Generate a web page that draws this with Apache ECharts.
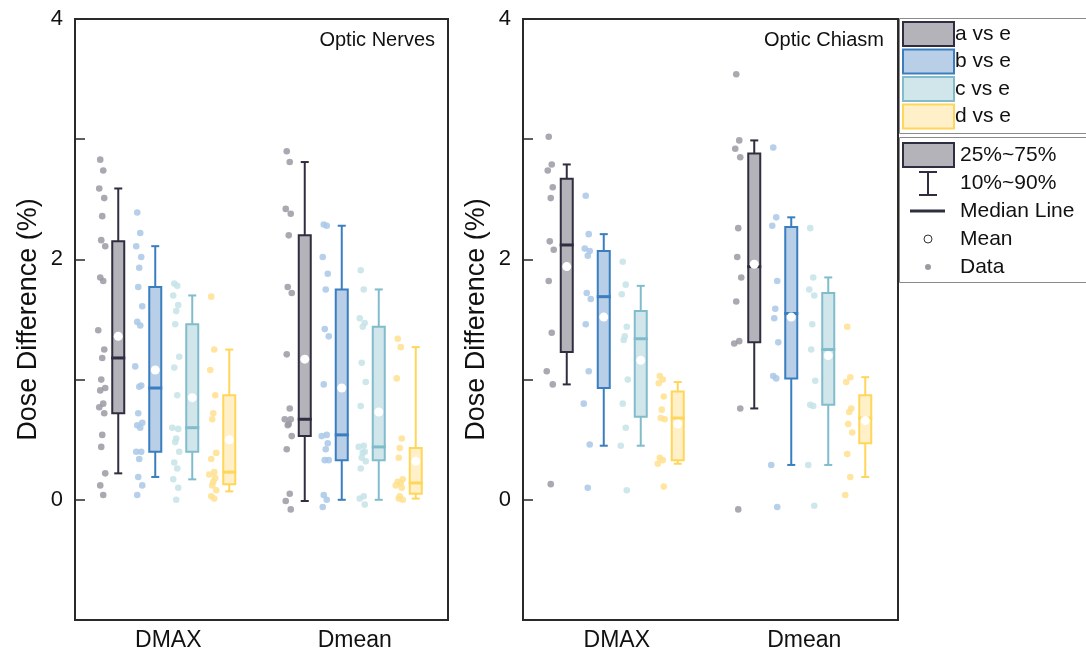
<!DOCTYPE html>
<html>
<head>
<meta charset="utf-8">
<script src="https://cdn.jsdelivr.net/npm/echarts@6/dist/echarts.min.js"></script>
<style>
  html, body { margin: 0; padding: 0; background: #fff; }
  #chart { width: 1086px; height: 657px; }
</style>
</head>
<body>
<div id="chart"></div>
<script>
var categories = ['DMAX', 'Dmean'];
var groups = ['a vs e', 'b vs e', 'c vs e', 'd vs e'];
var panels = ['Optic Nerves', 'Optic Chiasm'];
var yTicks = [-1, 0, 1, 2, 3, 4];

// box stats per group: [p10, q1, median, q3, p90, mean]
var nervesDmaxStats = [[0.22, 0.72, 1.18, 2.15, 2.59, 1.36], [0.19, 0.40, 0.93, 1.77, 2.11, 1.08], [0.17, 0.40, 0.60, 1.46, 1.70, 0.85], [0.07, 0.13, 0.23, 0.87, 1.25, 0.50]];
var nervesDmeanStats = [[-0.01, 0.53, 0.67, 2.20, 2.81, 1.17], [0.00, 0.33, 0.54, 1.75, 2.28, 0.93], [0.00, 0.33, 0.44, 1.44, 1.75, 0.73], [0.01, 0.05, 0.14, 0.43, 1.27, 0.32]];
var chiasmDmaxStats = [[0.96, 1.23, 2.12, 2.67, 2.79, 1.94], [0.45, 0.93, 1.69, 2.07, 2.21, 1.52], [0.45, 0.69, 1.34, 1.57, 1.78, 1.16], [0.30, 0.33, 0.68, 0.90, 0.98, 0.63]];
var chiasmDmeanStats = [[0.76, 1.31, 1.94, 2.88, 2.99, 1.96], [0.29, 1.01, 1.55, 2.27, 2.35, 1.52], [0.29, 0.79, 1.25, 1.72, 1.85, 1.20], [0.19, 0.47, 0.68, 0.87, 1.02, 0.66]];

// raw points
var nervesDmaxA = [2.83, 2.74, 2.59, 2.51, 2.36, 2.16, 2.11, 1.85, 1.82, 1.41, 1.25, 1.18, 1.00, 0.93, 0.91, 0.80, 0.77, 0.72, 0.54, 0.44, 0.22, 0.12, 0.04];
var nervesDmaxB = [2.39, 2.22, 2.11, 2.02, 1.93, 1.77, 1.61, 1.48, 1.45, 1.11, 0.95, 0.94, 0.72, 0.64, 0.62, 0.60, 0.40, 0.40, 0.34, 0.19, 0.12, 0.04];
var nervesDmaxC = [1.80, 1.78, 1.70, 1.62, 1.57, 1.46, 1.19, 1.10, 0.87, 0.60, 0.59, 0.51, 0.48, 0.40, 0.31, 0.26, 0.17, 0.10, 0.00];
var nervesDmaxD = [1.69, 1.25, 1.08, 0.87, 0.72, 0.67, 0.39, 0.34, 0.23, 0.21, 0.18, 0.15, 0.12, 0.08, 0.03, 0.01];
var nervesDmeanA = [2.90, 2.81, 2.42, 2.38, 2.20, 1.77, 1.72, 1.21, 0.76, 0.67, 0.67, 0.63, 0.62, 0.53, 0.42, 0.05, -0.01, -0.08];
var nervesDmeanB = [2.29, 2.28, 2.02, 1.88, 1.75, 1.42, 1.36, 0.96, 0.54, 0.53, 0.47, 0.42, 0.33, 0.33, 0.04, 0.00, -0.06];
var nervesDmeanC = [1.91, 1.75, 1.51, 1.47, 1.44, 1.14, 0.98, 0.78, 0.45, 0.44, 0.40, 0.39, 0.35, 0.32, 0.26, 0.03, 0.01, -0.04];
var nervesDmeanD = [1.34, 1.27, 1.01, 0.51, 0.43, 0.35, 0.17, 0.15, 0.14, 0.12, 0.10, 0.03, 0.01, 0.00];
var chiasmDmaxA = [3.02, 2.79, 2.74, 2.60, 2.51, 2.15, 2.08, 1.82, 1.39, 1.07, 0.96, 0.13];
var chiasmDmaxB = [2.53, 2.21, 2.09, 2.07, 2.03, 1.72, 1.67, 1.46, 1.07, 0.80, 0.46, 0.10];
var chiasmDmaxC = [1.98, 1.79, 1.71, 1.44, 1.36, 1.33, 1.00, 0.80, 0.60, 0.45, 0.08];
var chiasmDmaxD = [1.03, 1.00, 0.97, 0.86, 0.75, 0.68, 0.67, 0.35, 0.33, 0.30, 0.11];
var chiasmDmeanA = [3.54, 2.99, 2.92, 2.85, 2.26, 2.02, 1.85, 1.65, 1.32, 1.30, 0.76, -0.08];
var chiasmDmeanB = [2.93, 2.35, 2.28, 1.82, 1.59, 1.51, 1.31, 1.03, 1.01, 0.29, -0.06];
var chiasmDmeanC = [2.26, 1.85, 1.75, 1.70, 1.46, 1.25, 0.99, 0.79, 0.78, 0.29, -0.05];
var chiasmDmeanD = [1.44, 1.02, 0.98, 0.76, 0.73, 0.63, 0.56, 0.38, 0.19, 0.04];

var fills = ['#b3b3b9', '#b8cfe7', '#d1e6ea', '#fff0c9'];
var strokes = ['#2e2e40', '#3a7ec0', '#80bccb', '#ffd65a'];
var dotColors = ['#9a9aa3', '#a9c8e8', '#c5e3e7', '#ffe08f'];
var boxOffset = [-50, -13, 24, 61];
var dotShift = -16;
var jitterPx = [-2, 1, -3, 2, 0, -1, 3, -2, 1, -4, 2, 0, -1, 3];
var FONT = 'Liberation Sans, Arial, sans-serif';

var statsByPanel = [[nervesDmaxStats, nervesDmeanStats], [chiasmDmaxStats, chiasmDmeanStats]];
var pointsByPanel = [
	[[nervesDmaxA, nervesDmaxB, nervesDmaxC, nervesDmaxD], [nervesDmeanA, nervesDmeanB, nervesDmeanC, nervesDmeanD]],
	[[chiasmDmaxA, chiasmDmaxB, chiasmDmaxC, chiasmDmaxD], [chiasmDmeanA, chiasmDmeanB, chiasmDmeanC, chiasmDmeanD]]
];

function boxRenderer(g) {
	return function(params, api) {
		var cat = api.value(0);
		var cx = api.coord([cat, 0])[0] + boxOffset[g];
		var y = function(i) { return api.coord([cat, api.value(i)])[1]; };
		var lo = y(1), q1 = y(2), med = y(3), q3 = y(4), hi = y(5), mean = y(6);
		var ls = { stroke: strokes[g], lineWidth: 2 };
		return {
			type: 'group',
			children: [
				{ type: 'line', shape: { x1: cx, y1: hi, x2: cx, y2: lo }, style: ls },
				{ type: 'line', shape: { x1: cx - 4, y1: hi, x2: cx + 4, y2: hi }, style: ls },
				{ type: 'line', shape: { x1: cx - 4, y1: lo, x2: cx + 4, y2: lo }, style: ls },
				{ type: 'rect', shape: { x: cx - 6, y: q3, width: 12, height: q1 - q3 },
					style: { fill: fills[g], stroke: strokes[g], lineWidth: 2 } },
				{ type: 'line', shape: { x1: cx - 7, y1: med, x2: cx + 7, y2: med },
					style: { stroke: strokes[g], lineWidth: 3 } },
				{ type: 'circle', shape: { cx: cx, cy: mean, r: 4.5 }, style: { fill: '#fff' } }
			]
		};
	};
}

function dotRenderer(g) {
	return function(params, api) {
		var p = api.coord([api.value(0), api.value(1)]);
		var dx = boxOffset[g] + dotShift + jitterPx[api.value(2) % jitterPx.length];
		return { type: 'circle', shape: { cx: p[0] + dx, cy: p[1], r: 3.3 },
			style: { fill: dotColors[g], opacity: 0.85 } };
	};
}

var series = [];
panels.forEach(function(name, pi) {
	groups.forEach(function(gname, g) {
		var pts = [];
		categories.forEach(function(c, ci) {
			pointsByPanel[pi][ci][g].forEach(function(v, k) { pts.push([ci, v, k]); });
		});
		series.push({
			type: 'custom', xAxisIndex: pi, yAxisIndex: pi, z: 2,
			renderItem: dotRenderer(g), data: pts, silent: true
		});
	});
	groups.forEach(function(gname, g) {
		var data = categories.map(function(c, ci) {
			return [ci].concat(statsByPanel[pi][ci][g]);
		});
		series.push({
			type: 'custom', name: gname, xAxisIndex: pi, yAxisIndex: pi, z: 3,
			renderItem: boxRenderer(g), data: data, silent: true
		});
	});
});

var grids = [
	{ left: 75, top: 19, width: 373, height: 601 },
	{ left: 523, top: 19, width: 375, height: 601 }
];
grids.forEach(function(gr) {
	gr.show = true; gr.borderColor = '#2a2a2a'; gr.borderWidth = 2; gr.backgroundColor = 'transparent';
});

var xAxes = panels.map(function(p, i) {
	return {
		type: 'category', gridIndex: i, data: categories,
		axisLine: { onZero: false, lineStyle: { color: '#2a2a2a', width: 2 } },
		axisTick: { inside: true, alignWithLabel: true, length: 10, lineStyle: { color: '#2a2a2a', width: 1.5 } },
		axisLabel: { color: '#111', fontSize: 23, fontFamily: FONT, margin: 9 },
		splitLine: { show: false }
	};
});
var yAxes = panels.map(function(p, i) {
	return {
		type: 'value', gridIndex: i, min: yTicks[0], max: yTicks[yTicks.length - 1], interval: 1,
		name: 'Dose Difference (%)', nameLocation: 'middle', nameGap: 33,
		nameTextStyle: { color: '#111', fontSize: 27, fontFamily: FONT },
		axisLine: { show: true, onZero: false, lineStyle: { color: '#2a2a2a', width: 2 } },
		axisTick: { show: true, inside: true, length: 10, lineStyle: { color: '#2a2a2a', width: 1.5 } },
		axisLabel: { color: '#111', fontSize: 22, fontFamily: FONT, margin: 12,
			formatter: function(v) { return v % 2 === 0 ? String(v) : ''; } },
		splitLine: { show: false }
	};
});

// legend drawn by hand (two framed blocks)
var legendGraphics = [
	{ type: 'rect', shape: { x: 899.5, y: 18.5, width: 200, height: 115 }, style: { fill: '#fff', stroke: '#8a8a8a', lineWidth: 1 } },
	{ type: 'rect', shape: { x: 899.5, y: 137.5, width: 200, height: 145 }, style: { fill: '#fff', stroke: '#8a8a8a', lineWidth: 1 } }
];
groups.forEach(function(gname, g) {
	var top = 22 + g * 27.5;
	legendGraphics.push({ type: 'rect', shape: { x: 903, y: top, width: 51, height: 24 },
		style: { fill: fills[g], stroke: strokes[g], lineWidth: 2 } });
	legendGraphics.push({ type: 'text', x: 955, y: top + 12,
		style: { text: gname, fill: '#111', font: '21px ' + FONT, textVerticalAlign: 'middle' } });
});
var keyText = ['25%~75%', '10%~90%', 'Median Line', 'Mean', 'Data'];
legendGraphics.push(
	{ type: 'rect', shape: { x: 903, y: 143, width: 51, height: 24 }, style: { fill: fills[0], stroke: strokes[0], lineWidth: 2 } },
	{ type: 'line', shape: { x1: 928, y1: 172, x2: 928, y2: 195 }, style: { stroke: strokes[0], lineWidth: 2 } },
	{ type: 'line', shape: { x1: 919, y1: 172, x2: 937, y2: 172 }, style: { stroke: strokes[0], lineWidth: 2 } },
	{ type: 'line', shape: { x1: 919, y1: 195, x2: 937, y2: 195 }, style: { stroke: strokes[0], lineWidth: 2 } },
	{ type: 'line', shape: { x1: 910, y1: 211, x2: 945, y2: 211 }, style: { stroke: strokes[0], lineWidth: 3 } },
	{ type: 'circle', shape: { cx: 928, cy: 239, r: 4 }, style: { fill: '#fff', stroke: '#333', lineWidth: 1 } },
	{ type: 'circle', shape: { cx: 928, cy: 267, r: 3 }, style: { fill: dotColors[0] } }
);
keyText.forEach(function(t, i) {
	legendGraphics.push({ type: 'text', x: 960, y: 155 + i * 28,
		style: { text: t, fill: '#111', font: '21px ' + FONT, textVerticalAlign: 'middle' } });
});

var chart = echarts.init(document.getElementById('chart'), null, { renderer: 'canvas' });
chart.setOption({
	animation: false,
	backgroundColor: '#fff',
	title: [
		{ text: panels[0], right: 646, top: 25, textStyle: { fontSize: 20, fontWeight: 'normal', color: '#111', fontFamily: FONT } },
		{ text: panels[1], right: 197, top: 25, textStyle: { fontSize: 20, fontWeight: 'normal', color: '#111', fontFamily: FONT } }
	],
	grid: grids,
	xAxis: xAxes,
	yAxis: yAxes,
	series: series,
	graphic: legendGraphics
});
</script>
</body>
</html>
